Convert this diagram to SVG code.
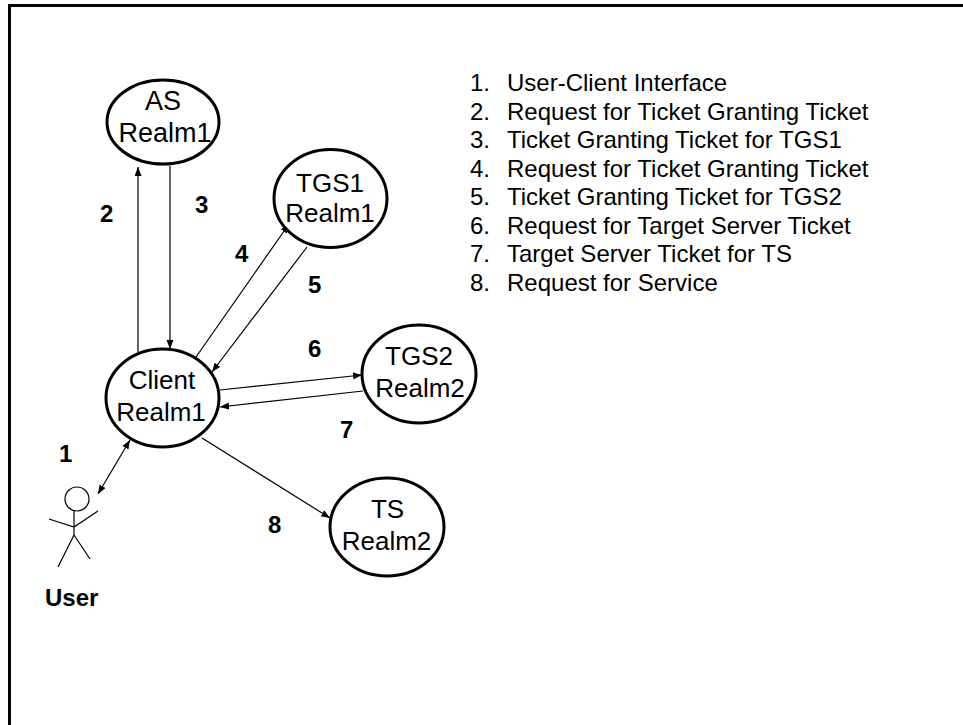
<svg xmlns="http://www.w3.org/2000/svg" width="963" height="725" viewBox="0 0 963 725">
<defs>
<style>
.node{fill:#fff;stroke:#000;stroke-width:3}
.nt{font-family:"Liberation Sans",Arial,sans-serif;font-size:26px;text-anchor:middle;fill:#000}
.num{font-family:"Liberation Sans",Arial,sans-serif;font-size:24px;font-weight:bold;fill:#000}
.leg{font-family:"Liberation Sans",Arial,sans-serif;font-size:24px;fill:#000}
.conn{stroke:#000;stroke-width:1.2;fill:none}
.fig{stroke:#000;stroke-width:1.2;fill:none}
</style>
<marker id="arr" markerUnits="userSpaceOnUse" markerWidth="10" markerHeight="8" refX="9" refY="3.5" orient="auto-start-reverse" viewBox="0 0 10 8">
<path d="M0,0 L9,3.5 L0,7 z" fill="#000"/>
</marker>
</defs>
<rect width="963" height="725" fill="#fff"/>
<path d="M9.5,726 V5.5 H964" fill="none" stroke="#000" stroke-width="3"/>

<g id="connectors">
<line class="conn" x1="138" y1="352" x2="138" y2="167" marker-end="url(#arr)"/>
<line class="conn" x1="170" y1="166" x2="170" y2="349" marker-end="url(#arr)"/>
<line class="conn" x1="196" y1="357" x2="289" y2="224" marker-end="url(#arr)"/>
<line class="conn" x1="307" y1="247" x2="212" y2="372" marker-end="url(#arr)"/>
<line class="conn" x1="220" y1="390" x2="362" y2="375" marker-end="url(#arr)"/>
<line class="conn" x1="363" y1="391" x2="220" y2="407" marker-end="url(#arr)"/>
<line class="conn" x1="98" y1="494" x2="130" y2="440" marker-start="url(#arr)" marker-end="url(#arr)"/>
<line class="conn" x1="202" y1="438" x2="330" y2="518" marker-end="url(#arr)"/>
</g>

<g id="labels">
<text class="num" x="100" y="222">2</text>
<text class="num" x="195" y="213">3</text>
<text class="num" x="235" y="262">4</text>
<text class="num" x="308" y="293">5</text>
<text class="num" x="308" y="357">6</text>
<text class="num" x="340" y="438">7</text>
<text class="num" x="59" y="462">1</text>
<text class="num" x="268" y="533">8</text>
</g>

<g id="node-as">
<ellipse class="node" cx="163" cy="122" rx="56" ry="42"/>
<text class="nt" x="163" y="110" style="font-size:27px">AS</text>
<text class="nt" x="165" y="142" style="font-size:27px">Realm1</text>
</g>

<g id="node-tgs1">
<ellipse class="node" cx="330.5" cy="198.5" rx="56.5" ry="49"/>
<text class="nt" x="330" y="192">TGS1</text>
<text class="nt" x="330" y="222">Realm1</text>
</g>

<g id="node-client">
<ellipse class="node" cx="162.5" cy="398" rx="56.5" ry="49"/>
<text class="nt" x="162" y="389">Client</text>
<text class="nt" x="161" y="421">Realm1</text>
</g>

<g id="node-tgs2">
<ellipse class="node" cx="419" cy="374" rx="57" ry="49"/>
<text class="nt" x="419" y="365">TGS2</text>
<text class="nt" x="420" y="397">Realm2</text>
</g>

<g id="node-ts">
<ellipse class="node" cx="387" cy="527" rx="57" ry="49"/>
<text class="nt" x="387.5" y="518">TS</text>
<text class="nt" x="386.5" y="550">Realm2</text>
</g>

<g id="node-user">
<circle class="fig" cx="77" cy="499" r="12"/>
<path class="fig" d="M74,511 V535 M49,519 L74,527 L98,511 M74,535 L58,567 M74,535 L90,559"/>
<text class="num" x="45" y="606">User</text>
</g>

<g id="legend">
<text class="leg" x="470" y="91">1.</text><text class="leg" x="507" y="91">User-Client Interface</text>
<text class="leg" x="470" y="119.5">2.</text><text class="leg" x="507" y="119.5">Request for Ticket Granting Ticket</text>
<text class="leg" x="470" y="148">3.</text><text class="leg" x="507" y="148">Ticket Granting Ticket for TGS1</text>
<text class="leg" x="470" y="176.5">4.</text><text class="leg" x="507" y="176.5">Request for Ticket Granting Ticket</text>
<text class="leg" x="470" y="205">5.</text><text class="leg" x="507" y="205">Ticket Granting Ticket for TGS2</text>
<text class="leg" x="470" y="233.5">6.</text><text class="leg" x="507" y="233.5">Request for Target Server Ticket</text>
<text class="leg" x="470" y="262">7.</text><text class="leg" x="507" y="262">Target Server Ticket for TS</text>
<text class="leg" x="470" y="290.5">8.</text><text class="leg" x="507" y="290.5">Request for Service</text>
</g>
</svg>
